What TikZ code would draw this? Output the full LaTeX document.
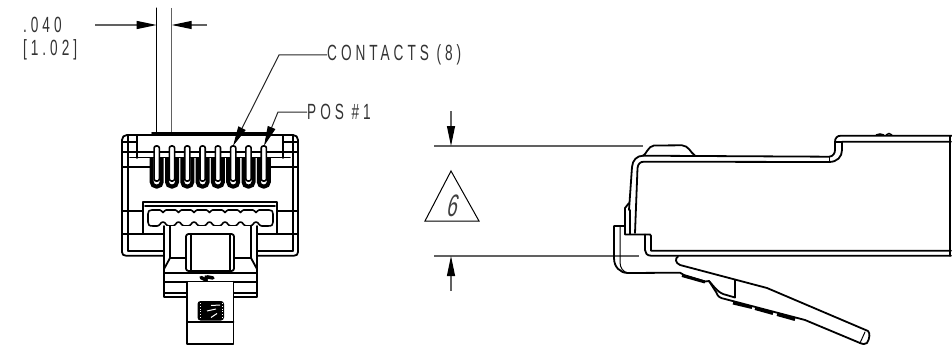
\documentclass[tikz,border=0pt]{standalone}
\usepackage{fontspec}
\usetikzlibrary{arrows.meta}
\newfontfamily\dimfont[FakeStretch=0.62,LetterSpace=18]{Liberation Sans}
\newfontfamily\sixfont[FakeSlant=0.22,FakeStretch=0.6]{Liberation Sans}
\tikzset{
 part/.style={line width=1.8pt,black,line cap=round,line join=round},
 thin part/.style={line width=1pt,black,line cap=round,line join=round},
 dimline/.style={line width=1.1pt,black!62},
 leader/.style={line width=1pt,black!85},
 dimtip/.style={-{Triangle[length=20pt,width=8pt,black]}},
 lbl/.style={inner sep=0pt,anchor=west,font=\dimfont\fontsize{22}{22}\selectfont,text=black!80},
}
\begin{document}
\begin{tikzpicture}[x=1pt,y=-1pt]
\useasboundingbox (0,0) rectangle (952,345);
% ---------- dimension .040
\node[lbl] (dimA) at (23,25) {.040};
\node[lbl] (dimB) at (23,49.5) {[1.02]};
\coordinate (extL) at (156.7,8); \coordinate (extLb) at (156.7,133);
\coordinate (extR) at (171.7,8); \coordinate (extRb) at (171.7,133);
\draw[thin part] (extL) -- (extLb);
\draw[dimline] (extR) -- (extRb);
\coordinate (aL) at (95,25); \coordinate (aR) at (207,25);
\draw[dimline,dimtip] (aL) -- (156.7,25);
\draw[dimline,dimtip] (aR) -- (171.7,25);
% ---------- front view body
\draw[part] (122,252) -- (122,140) .. controls (122,137) and (124,135) .. (127,135) -- (293,135) .. controls (296,135) and (298,137) .. (298,140) -- (298,252) .. controls (298,254.5) and (296.5,255.7) .. (294,255.7) -- (257,255.7);
\draw[part] (122,252) .. controls (122,254.5) and (123.5,255.7) .. (126,255.7) -- (164,255.7);
\draw[part] (152,133) -- (268,133);
\draw[part] (128,135) -- (128,250.7);
\draw[part] (137,135) -- (137,158);
\draw[part] (283,135) -- (283,158);
\draw[part] (293,135) -- (293,250.7);
\draw[part] (122,142) -- (137,142);
\draw[part] (283,142) -- (298,142);
\draw[part] (122,152) -- (298,152);
\draw[part] (130,157.5) -- (290,157.5);
\draw[part] (122,167) -- (152,167);
\draw[part] (268,167) -- (298,167);
\draw[part] (122,211) -- (143,211);
\draw[part] (277,211) -- (298,211);
\draw[part] (122,234) -- (164,234);
\draw[part] (257,234) -- (298,234);
\draw[part] (128,250.7) -- (164,250.7);
\draw[part] (257,250.7) -- (293,250.7);
% contacts
\foreach \c in {156.7,172,187.3,202.6,217.9,233.2,248.5,263.8}{
  \draw[line width=4pt,black,rounded corners=4.5pt] (\c-5,158) -- (\c-5,186.5) -- (\c+5,186.5) -- (\c+5,158);
  \draw[thin part,line width=1.6pt,fill=white,rounded corners=2pt] (\c-2.6,146) rectangle (\c+2.6,181);
}
% connector plate
\draw[part] (143,234) -- (143,202) -- (277,202) -- (277,234);
\draw[part] (145,206) -- (275,206);
\draw[thin part,line width=1.6pt] (152,210)
  \foreach \k in {163,178.5,194,209.5,225,240.5,256}{ -- (\k-3,210) .. controls (\k-1,210) and (\k-1,212.5) .. (\k,212.5) .. controls (\k+1,212.5) and (\k+1,210) .. (\k+3,210) }
  -- (269,210) .. controls (272,210) and (273,211) .. (273,214) -- (273,222) .. controls (273,225) and (272,226) .. (268,226)
  \foreach \k in {256,240.5,225,209.5,194,178.5,163}{ -- (\k+6,226) .. controls (\k+3,226) and (\k+2.5,222) .. (\k,222) .. controls (\k-2.5,222) and (\k-3,226) .. (\k-6,226) }
  -- (153,226) .. controls (149,226) and (148,225) .. (148,222) -- (148,214) .. controls (148,211) and (149,210) .. (152,210) -- cycle;
% latch tab
\draw[part,fill=white] (164,226) -- (164,297) -- (257,297) -- (257,226);
\draw[part] (170,226) -- (170,258) -- (164,269);
\draw[part] (251,226) -- (251,258) -- (257,269);
\draw[part] (170,258) -- (186,258);
\draw[part] (234,258) -- (251,258);
\draw[part,rounded corners=2.5pt] (186,234) rectangle (234,271);
\draw[part] (191,234) -- (191,271);
\draw[part] (230,234) -- (230,271);
\draw[part] (164,272.7) -- (257,272.7);
\draw[part] (164,281.7) -- (257,281.7);
\draw[part] (164,293) -- (187,293);
\draw[part] (234,293) -- (257,293);
\draw[part,fill=white] (187,281.7) -- (187,344) -- (233.5,344) -- (233.5,281.7);
\draw[part] (187,321.7) -- (233.5,321.7);
% marks
\draw[line width=3.5pt,black,line cap=round] (201,277.5) -- (205,279.5) -- (208,277) -- (213,278);
\draw[line width=2pt,black] (205.5,275.5) -- (207,281.5);
\fill[black,rounded corners=3pt] (197.5,301) rectangle (224,320.5);
\draw[white,line width=1pt] (211,305.5) -- (220,305);
\draw[white,line width=1pt] (207,311) -- (216,309);
\draw[white,line width=1pt] (211,317.5) -- (217,313.5);
\draw[white,line width=.8pt,dotted] (200.5,303) -- (200.5,319);
\draw[white,line width=.8pt,dotted] (222,303) -- (222,319);
% ---------- leaders
\node[lbl] (contacts) at (327,55) {CONTACTS (8)};
\node[lbl] (pos) at (307,112) {POS \#1};
\coordinate (contactsBend) at (279,55);
\coordinate (contactsTip) at (233,146);
\coordinate (posBend) at (278,112);
\coordinate (posTip) at (264,146);
\draw[leader,dimtip] (contacts.west) -- (contactsBend) -- (contactsTip);
\draw[leader,dimtip] (pos.west) -- (posBend) -- (posTip);
% ---------- dimension 6
\coordinate (topA) at (434,146); \coordinate (topB) at (643,146);
\coordinate (botA) at (434,256); \coordinate (botB) at (639,256);
\draw[dimline] (topA) -- (topB);
\draw[dimline] (botA) -- (botB);
\coordinate (upS) at (451,111); \coordinate (downS) at (451,291);
\draw[dimline,dimtip] (upS) -- (451,146);
\draw[dimline,dimtip] (downS) -- (451,256);
\coordinate (triA) at (451,171); \coordinate (triB) at (425,221); \coordinate (triC) at (479,221);
\draw[thin part,line join=miter] (triA) -- (triB) -- (triC) -- cycle;
\node[inner sep=0pt,font=\sixfont\fontsize{31}{31}\selectfont,text=black!75] (six) at (451,205.5) {6};
% ---------- side view
\draw[part] (643,155.7) .. controls (646,155) and (648,146) .. (654,145.5) -- (682,145.3) .. controls (689,146) and (690,152) .. (695,155.7);
\draw[part] (629,210) -- (632,167) .. controls (632.5,160) and (637,155.7) .. (643,155.7) -- (829,156.7) .. controls (833,156.7) and (835,153) .. (835,150) -- (835,142) .. controls (835,138) and (837,135.7) .. (841,135.7) -- (952,135.7);
\draw[part] (635,233) -- (637.5,168) .. controls (638,164) and (640,161.7) .. (644,161.7) -- (829,162) .. controls (837,162) and (842,157) .. (842,150) -- (842,141.7) -- (951,141.7);
\draw[part] (835,141.7) -- (842,141.7);
\draw[thin part] (829,156.7) -- (829,162);
\draw[part] (950,136) -- (950,255.7);
\draw[part] (629,203) -- (625,208) -- (625,234.5) -- (650,234.5) .. controls (651,234.5) and (651,235) .. (651,236) -- (651,250.7) -- (951,250.7);
\draw[part] (630,210) -- (630,234);
\draw[part] (645,234.5) -- (645,250) .. controls (645,253) and (647,255.7) .. (651,255.7) -- (951,255.7);
\draw[part] (625,226) -- (614,226) -- (614,258) .. controls (614,267) and (620,273) .. (628,273) -- (680,272.7) -- (684,275) -- (705,281.5) -- (709,281) -- (716,292) .. controls (718,297) and (720,298) .. (725,299) -- (805,320) -- (860,343);
\draw[thin part] (620,226) -- (620,262) .. controls (620,268) and (623,272) .. (628,273);
\draw[part] (678,256.5) .. controls (675,258) and (675,263) .. (680,265) -- (767,288) -- (868,331) .. controls (870,333) and (870,338) .. (867,343) .. controls (865,345) and (862,344) .. (860,343);
\draw[thin part] (860,343) -- (865,332);
\draw[part] (735,280) -- (735,297.5) -- (723,294) .. controls (718,292) and (715,288) .. (709,281);
\draw[line width=3pt,black] (682,275.5) -- (705,282);
\draw[line width=3pt,black] (733,303) -- (752,307.5);
\draw[line width=3pt,black] (755,308.5) -- (773,313.5);
\draw[line width=3pt,black] (777,314.5) -- (795,319.5);
\draw[line width=1.5pt,black] (876,135) -- (880,134) -- (884,135);
\draw[line width=1.5pt,black] (886,135) -- (889,133.5) -- (892,135);
\end{tikzpicture}
\end{document}
